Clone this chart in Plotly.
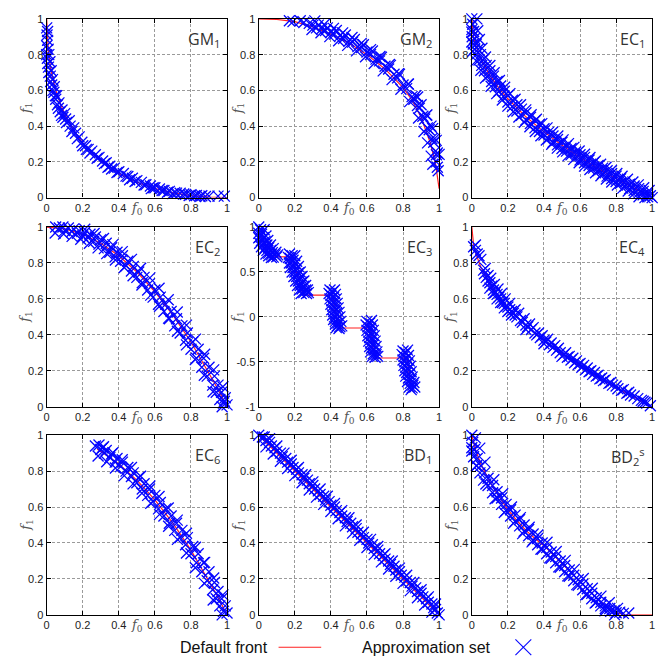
import plotly.graph_objects as go

W, H = 667, 658
COL_PX = [(36, 218), (250, 432), (465, 647)]
ROW_PX = [(5, 187), (217, 400), (429, 612)]

# ---------------- data ----------------
panel_titles = ["GM<sub>1</sub>", "GM<sub>2</sub>", "EC<sub>1</sub>",
                "EC<sub>2</sub>", "EC<sub>3</sub>", "EC<sub>4</sub>",
                "EC<sub>6</sub>", "BD<sub>1</sub>", "BD<sub>2</sub><sup>s</sup>"]

x_tick_vals = [0, 0.2, 0.4, 0.6, 0.8, 1]
x_tick_text = ["0", "0.2", "0.4", "0.6", "0.8", "1"]
y_tick_vals = [0, 0.2, 0.4, 0.6, 0.8, 1]
y_tick_text = ["0", "0.2", "0.4", "0.6", "0.8", "1"]
ec3_y_tick_vals = [-1, -0.5, 0, 0.5, 1]
ec3_y_tick_text = ["-1", "-0.5", "0", "0.5", "1"]

# ---- GM1
gm1_front = [(0, 1), (0.005, 0.8636), (0.01, 0.81), (0.02, 0.7372), (0.03, 0.6836),
             (0.05, 0.6028), (0.075, 0.5272), (0.1, 0.4675), (0.15, 0.3754), (0.2, 0.3056),
             (0.25, 0.25), (0.3, 0.2046), (0.4, 0.1351), (0.5, 0.0858), (0.6, 0.0508),
             (0.7, 0.0267), (0.8, 0.0111), (0.9, 0.0026), (1.0, 0)]
gm1_approx = [(0.000, 0.95), (0.002, 0.91), (0.005, 0.88), (0.000, 0.85), (0.008, 0.83),
              (0.012, 0.80), (0.004, 0.78), (0.018, 0.76), (0.010, 0.73), (0.025, 0.71),
              (0.020, 0.68), (0.032, 0.66), (0.028, 0.63), (0.042, 0.62), (0.040, 0.59),
              (0.055, 0.57), (0.050, 0.55), (0.068, 0.53), (0.065, 0.50), (0.085, 0.49),
              (0.082, 0.46), (0.100, 0.47), (0.105, 0.44), (0.125, 0.43), (0.130, 0.40),
              (0.150, 0.39), (0.160, 0.36), (0.180, 0.34), (0.195, 0.31), (0.215, 0.29),
              (0.220, 0.27), (0.230, 0.27), (0.250, 0.26), (0.270, 0.24), (0.290, 0.225),
              (0.310, 0.205), (0.330, 0.195), (0.340, 0.17), (0.350, 0.175), (0.375, 0.165),
              (0.400, 0.145), (0.425, 0.135), (0.450, 0.118), (0.460, 0.10), (0.475, 0.108),
              (0.500, 0.095), (0.525, 0.085), (0.550, 0.072), (0.575, 0.065), (0.580, 0.05),
              (0.600, 0.055), (0.625, 0.048), (0.650, 0.040), (0.680, 0.035), (0.700, 0.022),
              (0.710, 0.028), (0.740, 0.024), (0.770, 0.018), (0.800, 0.016), (0.830, 0.012),
              (0.860, 0.010), (0.900, 0.008), (0.950, 0.008), (0.985, 0.008)]
gm1_approx_lower = [(0.005, 0.93), (0.0, 0.80), (0.006, 0.75), (0.012, 0.70), (0.022, 0.65),
                    (0.035, 0.60), (0.048, 0.57), (0.06, 0.52), (0.075, 0.48), (0.09, 0.45),
                    (0.11, 0.42), (0.14, 0.37), (0.17, 0.33), (0.20, 0.29), (0.24, 0.25),
                    (0.28, 0.22), (0.32, 0.19), (0.36, 0.16), (0.39, 0.14), (0.44, 0.12),
                    (0.49, 0.09), (0.54, 0.07), (0.59, 0.055), (0.64, 0.04), (0.67, 0.03),
                    (0.72, 0.025), (0.76, 0.02), (0.79, 0.012), (0.82, 0.01), (0.85, 0.006),
                    (0.88, 0.006)]

# ---- GM2
gm2_front = [(0, 1), (0.1, 0.997), (0.2, 0.985), (0.3, 0.955), (0.4, 0.915), (0.5, 0.865),
             (0.6, 0.80), (0.7, 0.72), (0.8, 0.615), (0.85, 0.545), (0.9, 0.45),
             (0.95, 0.31), (0.98, 0.19), (1.0, 0.05)]
gm2_approx = [(0.17, 0.99), (0.19, 0.985), (0.23, 0.99), (0.25, 0.98), (0.28, 0.975),
              (0.30, 0.965), (0.32, 0.95), (0.33, 0.965), (0.35, 0.945), (0.37, 0.935),
              (0.38, 0.95), (0.40, 0.925), (0.42, 0.915), (0.43, 0.935), (0.45, 0.905),
              (0.47, 0.89), (0.48, 0.91), (0.50, 0.875), (0.52, 0.87), (0.53, 0.885),
              (0.55, 0.845), (0.57, 0.84), (0.58, 0.855), (0.60, 0.815), (0.62, 0.80),
              (0.63, 0.82), (0.65, 0.775), (0.67, 0.765), (0.68, 0.785), (0.70, 0.735),
              (0.72, 0.72), (0.73, 0.74), (0.75, 0.69), (0.77, 0.67), (0.78, 0.69),
              (0.80, 0.63), (0.82, 0.61), (0.83, 0.635), (0.85, 0.565), (0.86, 0.55),
              (0.87, 0.57), (0.88, 0.515), (0.89, 0.50), (0.90, 0.52), (0.91, 0.455),
              (0.92, 0.44), (0.93, 0.46), (0.935, 0.39), (0.945, 0.38), (0.955, 0.40),
              (0.96, 0.33), (0.97, 0.31), (0.975, 0.33), (0.98, 0.26), (0.985, 0.24),
              (0.99, 0.25), (0.985, 0.20), (0.99, 0.17), (0.995, 0.15)]
gm2_approx_upper = [(0.311, 0.989), (0.363, 0.969), (0.414, 0.947), (0.465, 0.922),
                    (0.517, 0.896), (0.568, 0.863), (0.62, 0.828), (0.672, 0.79),
                    (0.724, 0.745), (0.775, 0.694), (0.828, 0.636), (0.881, 0.563),
                    (0.932, 0.463), (0.964, 0.386), (0.984, 0.32), (1.0, 0.242)]
gm2_approx_lower = [(0.295, 0.941), (0.345, 0.923), (0.394, 0.901), (0.443, 0.878),
                    (0.493, 0.852), (0.542, 0.821), (0.592, 0.788), (0.64, 0.75),
                    (0.69, 0.709), (0.739, 0.66), (0.788, 0.606), (0.837, 0.537),
                    (0.886, 0.445), (0.916, 0.37), (0.936, 0.306), (0.956, 0.232),
                    (0.965, 0.187)]

# ---- EC1
ec1_front = [(0, 1), (0.005, 0.929), (0.01, 0.9), (0.02, 0.859), (0.05, 0.776),
             (0.1, 0.684), (0.15, 0.613), (0.2, 0.553), (0.3, 0.452), (0.4, 0.368),
             (0.5, 0.293), (0.6, 0.225), (0.7, 0.163), (0.8, 0.106), (0.9, 0.051), (1, 0)]
ec1_approx = [(0.0, 1.0), (0.005, 0.97), (0.0, 0.94), (0.01, 0.93), (0.002, 0.90),
              (0.015, 0.89), (0.008, 0.86), (0.025, 0.86), (0.015, 0.83), (0.035, 0.83),
              (0.025, 0.80), (0.048, 0.80), (0.04, 0.77), (0.062, 0.77), (0.055, 0.74),
              (0.08, 0.74), (0.07, 0.71), (0.1, 0.71), (0.09, 0.68), (0.12, 0.68),
              (0.11, 0.65), (0.14, 0.65), (0.13, 0.62), (0.16, 0.625), (0.15, 0.595),
              (0.18, 0.595), (0.175, 0.565), (0.20, 0.57), (0.20, 0.535), (0.225, 0.545),
              (0.225, 0.51), (0.25, 0.52), (0.25, 0.485), (0.275, 0.495), (0.275, 0.46),
              (0.30, 0.475), (0.30, 0.435), (0.325, 0.45), (0.325, 0.415), (0.35, 0.43),
              (0.35, 0.39), (0.375, 0.41), (0.375, 0.37), (0.40, 0.385), (0.40, 0.35),
              (0.425, 0.365), (0.425, 0.33), (0.45, 0.345), (0.45, 0.31), (0.475, 0.325),
              (0.475, 0.295), (0.50, 0.31), (0.50, 0.275), (0.525, 0.29), (0.525, 0.26),
              (0.55, 0.275), (0.55, 0.24), (0.575, 0.255), (0.575, 0.225), (0.60, 0.24),
              (0.60, 0.21), (0.625, 0.225), (0.625, 0.195), (0.65, 0.21), (0.65, 0.18),
              (0.675, 0.195), (0.675, 0.165), (0.70, 0.18), (0.70, 0.15), (0.725, 0.165),
              (0.725, 0.135), (0.75, 0.15), (0.75, 0.12), (0.775, 0.135), (0.775, 0.105),
              (0.80, 0.12), (0.80, 0.09), (0.825, 0.105), (0.825, 0.08), (0.85, 0.09),
              (0.85, 0.065), (0.875, 0.075), (0.875, 0.05), (0.90, 0.065), (0.90, 0.04),
              (0.925, 0.05), (0.925, 0.025), (0.95, 0.035), (0.95, 0.015), (0.975, 0.02),
              (0.975, 0.005), (0.99, 0.01), (1.0, 0.0)]
ec1_approx_upper = [(0.028, 1.0), (0.033, 0.934), (0.042, 0.885), (0.056, 0.836),
                    (0.076, 0.787), (0.1, 0.739), (0.124, 0.699), (0.153, 0.655),
                    (0.182, 0.618), (0.211, 0.582), (0.24, 0.55), (0.27, 0.52),
                    (0.299, 0.491), (0.329, 0.464), (0.358, 0.438), (0.388, 0.414),
                    (0.417, 0.39), (0.447, 0.366), (0.477, 0.345), (0.506, 0.323),
                    (0.536, 0.302), (0.566, 0.281), (0.595, 0.261), (0.625, 0.243),
                    (0.655, 0.224), (0.685, 0.205), (0.714, 0.187), (0.744, 0.17),
                    (0.774, 0.152), (0.804, 0.135), (0.833, 0.119), (0.863, 0.103),
                    (0.893, 0.087), (0.923, 0.071), (0.953, 0.055), (0.983, 0.04)]
ec1_approx_lower = [(0.0, 0.926), (0.0, 0.871), (0.004, 0.818), (0.024, 0.765),
                    (0.05, 0.713), (0.076, 0.669), (0.107, 0.623), (0.138, 0.582),
                    (0.169, 0.546), (0.2, 0.512), (0.23, 0.48), (0.261, 0.451),
                    (0.291, 0.422), (0.322, 0.396), (0.352, 0.37), (0.383, 0.346),
                    (0.413, 0.322), (0.443, 0.299), (0.474, 0.277), (0.504, 0.256),
                    (0.534, 0.235), (0.565, 0.214), (0.595, 0.195), (0.625, 0.176),
                    (0.655, 0.157), (0.686, 0.139), (0.716, 0.122), (0.746, 0.104),
                    (0.776, 0.087), (0.807, 0.07), (0.837, 0.053), (0.867, 0.037),
                    (0.897, 0.021), (0.927, 0.005), (0.96, 0.0)]

# ---- EC2
ec2_front = [(0, 1), (0.1, 0.99), (0.2, 0.96), (0.3, 0.91), (0.4, 0.84), (0.5, 0.75),
             (0.6, 0.64), (0.7, 0.51), (0.8, 0.36), (0.9, 0.19), (0.95, 0.0975), (1, 0)]
ec2_approx = [(0.05, 1.0), (0.07, 0.995), (0.09, 1.0), (0.1, 0.98), (0.12, 0.995),
              (0.14, 0.975), (0.15, 0.99), (0.17, 0.965), (0.18, 0.98), (0.2, 0.95),
              (0.21, 0.97), (0.23, 0.94), (0.24, 0.96), (0.26, 0.92), (0.27, 0.945),
              (0.29, 0.905), (0.30, 0.93), (0.32, 0.88), (0.33, 0.91), (0.35, 0.86),
              (0.36, 0.885), (0.38, 0.835), (0.39, 0.86), (0.41, 0.81), (0.42, 0.84),
              (0.44, 0.785), (0.45, 0.81), (0.47, 0.755), (0.48, 0.78), (0.50, 0.72),
              (0.51, 0.75), (0.53, 0.69), (0.54, 0.72), (0.56, 0.65), (0.57, 0.685),
              (0.59, 0.61), (0.60, 0.65), (0.62, 0.57), (0.63, 0.61), (0.65, 0.53),
              (0.66, 0.57), (0.68, 0.49), (0.69, 0.53), (0.71, 0.45), (0.72, 0.49),
              (0.74, 0.41), (0.75, 0.45), (0.77, 0.37), (0.78, 0.41), (0.80, 0.32),
              (0.81, 0.36), (0.83, 0.27), (0.84, 0.32), (0.86, 0.22), (0.87, 0.27),
              (0.89, 0.17), (0.90, 0.22), (0.92, 0.12), (0.93, 0.17), (0.94, 0.08),
              (0.95, 0.12), (0.96, 0.04), (0.97, 0.08), (0.98, 0.02), (0.99, 0.05), (1.0, 0.01)]
ec2_approx_upper = [(0.053, 1.02), (0.106, 1.017), (0.159, 1.006), (0.211, 0.988),
                    (0.263, 0.964), (0.315, 0.936), (0.367, 0.902), (0.419, 0.863),
                    (0.47, 0.82), (0.521, 0.771), (0.572, 0.717), (0.623, 0.659),
                    (0.674, 0.595), (0.724, 0.527), (0.775, 0.454), (0.825, 0.376),
                    (0.876, 0.292), (0.926, 0.205), (0.977, 0.111), (0.985, 0.03)]
ec2_approx_lower = [(0.047, 0.967), (0.094, 0.961), (0.141, 0.948), (0.189, 0.932),
                    (0.237, 0.910), (0.285, 0.884), (0.333, 0.852), (0.381, 0.817),
                    (0.43, 0.775), (0.479, 0.729), (0.528, 0.677), (0.577, 0.621),
                    (0.626, 0.559), (0.676, 0.493), (0.725, 0.420), (0.775, 0.344),
                    (0.824, 0.262), (0.874, 0.175), (0.923, 0.083), (0.973, 0.0)]

# ---- EC3
ec3_front = [(0, 1), (0.01, 0.897), (0.02, 0.847), (0.03, 0.803), (0.04, 0.762),
             (0.05, 0.726), (0.06, 0.698), (0.07, 0.679), (0.083, 0.670), (0.183, 0.668),
             (0.2, 0.553), (0.22, 0.402), (0.24, 0.282), (0.258, 0.242), (0.409, 0.242),
             (0.42, 0.105), (0.43, -0.004), (0.44, -0.081), (0.454, -0.124), (0.618, -0.124),
             (0.63, -0.304), (0.64, -0.409), (0.653, -0.458), (0.823, -0.458),
             (0.83, -0.582), (0.84, -0.715), (0.852, -0.773)]
ec3_approx = [(0.0, 1.0), (0.01, 0.97), (0.0, 0.93), (0.015, 0.92), (0.005, 0.89),
              (0.025, 0.88), (0.015, 0.85), (0.035, 0.84), (0.025, 0.81), (0.045, 0.80),
              (0.035, 0.77), (0.055, 0.77), (0.045, 0.74), (0.065, 0.74), (0.055, 0.71),
              (0.075, 0.715), (0.07, 0.69), (0.09, 0.69), (0.08, 0.665), (0.1, 0.67),
              (0.17, 0.70), (0.185, 0.68), (0.175, 0.65), (0.19, 0.63), (0.18, 0.60),
              (0.20, 0.59), (0.19, 0.55), (0.21, 0.54), (0.20, 0.50), (0.22, 0.49),
              (0.21, 0.45), (0.23, 0.44), (0.22, 0.40), (0.24, 0.39), (0.23, 0.35),
              (0.25, 0.34), (0.24, 0.31), (0.26, 0.30), (0.25, 0.27), (0.265, 0.26),
              (0.395, 0.30), (0.41, 0.28), (0.40, 0.24), (0.415, 0.22), (0.405, 0.18),
              (0.42, 0.16), (0.41, 0.12), (0.425, 0.10), (0.415, 0.06), (0.43, 0.04),
              (0.42, 0.0), (0.435, -0.02), (0.425, -0.05), (0.44, -0.07), (0.435, -0.10),
              (0.45, -0.11), (0.445, -0.13),
              (0.60, -0.05), (0.615, -0.07), (0.605, -0.11), (0.62, -0.13), (0.61, -0.17),
              (0.625, -0.19), (0.615, -0.23), (0.63, -0.25), (0.62, -0.29), (0.635, -0.31),
              (0.625, -0.35), (0.64, -0.37), (0.635, -0.41), (0.65, -0.42), (0.645, -0.45),
              (0.80, -0.38), (0.815, -0.40), (0.805, -0.44), (0.82, -0.46), (0.81, -0.50),
              (0.825, -0.52), (0.815, -0.56), (0.83, -0.58), (0.82, -0.62), (0.835, -0.64),
              (0.83, -0.68), (0.845, -0.70), (0.84, -0.74), (0.855, -0.76), (0.85, -0.79)]
ec3_approx_right = [(0.03, 0.97), (0.04, 0.90), (0.05, 0.85), (0.065, 0.80), (0.08, 0.76),
                    (0.095, 0.72), (0.105, 0.69),
                    (0.20, 0.68), (0.21, 0.62), (0.22, 0.56), (0.23, 0.50), (0.24, 0.45),
                    (0.25, 0.40), (0.26, 0.35), (0.27, 0.30), (0.275, 0.27),
                    (0.42, 0.30), (0.425, 0.25), (0.43, 0.20), (0.435, 0.15), (0.44, 0.10),
                    (0.445, 0.05), (0.45, 0.0), (0.455, -0.05), (0.46, -0.10),
                    (0.625, -0.04), (0.63, -0.09), (0.635, -0.15), (0.64, -0.21),
                    (0.645, -0.27), (0.65, -0.33), (0.655, -0.39), (0.66, -0.44),
                    (0.825, -0.37), (0.83, -0.43), (0.835, -0.49), (0.84, -0.55),
                    (0.845, -0.61), (0.85, -0.67), (0.86, -0.73), (0.865, -0.78)]
ec3_approx_left = [(0.0, 0.88), (0.005, 0.82), (0.015, 0.78), (0.025, 0.74), (0.04, 0.70),
                   (0.055, 0.68), (0.07, 0.66),
                   (0.165, 0.66), (0.17, 0.60), (0.175, 0.55), (0.185, 0.50), (0.195, 0.45),
                   (0.205, 0.40), (0.215, 0.35), (0.225, 0.30), (0.235, 0.26),
                   (0.39, 0.26), (0.395, 0.20), (0.40, 0.14), (0.405, 0.08), (0.41, 0.02),
                   (0.415, -0.03), (0.425, -0.08), (0.43, -0.12),
                   (0.595, -0.09), (0.60, -0.15), (0.605, -0.21), (0.61, -0.27),
                   (0.615, -0.33), (0.62, -0.39), (0.63, -0.44),
                   (0.795, -0.42), (0.80, -0.48), (0.805, -0.54), (0.81, -0.60),
                   (0.815, -0.66), (0.825, -0.72), (0.835, -0.78), (0.845, -0.81)]

# ---- EC4
ec4_front = [(0, 1), (0.005, 0.929), (0.01, 0.9), (0.02, 0.859), (0.05, 0.776),
             (0.1, 0.684), (0.15, 0.613), (0.2, 0.553), (0.3, 0.452), (0.4, 0.368),
             (0.5, 0.293), (0.6, 0.225), (0.7, 0.163), (0.8, 0.106), (0.9, 0.051), (1, 0)]
ec4_approx = [(0.01, 0.89), (0.02, 0.90), (0.02, 0.87), (0.03, 0.85), (0.04, 0.84),
              (0.05, 0.82), (0.065, 0.76), (0.07, 0.74), (0.08, 0.72), (0.09, 0.70),
              (0.10, 0.69), (0.10, 0.66), (0.11, 0.67), (0.12, 0.65), (0.12, 0.63),
              (0.13, 0.635), (0.14, 0.625), (0.14, 0.60), (0.15, 0.61), (0.16, 0.60),
              (0.16, 0.58), (0.17, 0.58), (0.18, 0.575), (0.18, 0.55), (0.19, 0.56),
              (0.20, 0.555), (0.20, 0.53), (0.21, 0.54), (0.22, 0.53), (0.22, 0.51),
              (0.23, 0.52), (0.24, 0.51), (0.25, 0.50), (0.27, 0.48), (0.28, 0.47),
              (0.30, 0.455), (0.30, 0.43), (0.31, 0.445), (0.33, 0.43), (0.35, 0.41),
              (0.36, 0.40), (0.38, 0.385), (0.40, 0.37), (0.40, 0.35), (0.41, 0.36),
              (0.43, 0.345), (0.45, 0.33), (0.47, 0.315), (0.49, 0.30), (0.50, 0.28),
              (0.51, 0.29), (0.53, 0.275), (0.55, 0.26), (0.57, 0.245), (0.59, 0.235),
              (0.61, 0.22), (0.63, 0.205), (0.65, 0.195), (0.67, 0.18), (0.69, 0.17),
              (0.71, 0.155), (0.73, 0.145), (0.76, 0.13), (0.78, 0.12), (0.81, 0.10),
              (0.83, 0.09), (0.86, 0.075), (0.88, 0.065), (0.92, 0.045), (0.94, 0.035),
              (0.96, 0.025), (0.99, 0.005)]
ec4_approx_upper = [(0.075, 0.77), (0.09, 0.73), (0.105, 0.715), (0.125, 0.68), (0.145, 0.655),
                    (0.165, 0.63), (0.185, 0.60), (0.21, 0.575), (0.24, 0.54), (0.26, 0.52),
                    (0.29, 0.49), (0.32, 0.46), (0.34, 0.44), (0.37, 0.41), (0.39, 0.395),
                    (0.42, 0.375), (0.44, 0.355), (0.46, 0.34), (0.48, 0.325), (0.52, 0.30),
                    (0.54, 0.28), (0.56, 0.27), (0.58, 0.255), (0.60, 0.24), (0.62, 0.23),
                    (0.64, 0.215), (0.66, 0.20), (0.68, 0.19), (0.70, 0.175), (0.72, 0.16),
                    (0.74, 0.15), (0.77, 0.135), (0.80, 0.115), (0.84, 0.095), (0.87, 0.08),
                    (0.90, 0.06), (0.95, 0.03), (0.97, 0.02)]

# ---- EC6
ec6_front = [(0.28, 0.9216), (0.3, 0.91), (0.4, 0.84), (0.5, 0.75), (0.6, 0.64),
             (0.7, 0.51), (0.8, 0.36), (0.9, 0.19), (0.95, 0.0975), (1, 0)]
ec6_approx = [(0.27, 0.94), (0.29, 0.945), (0.30, 0.92), (0.31, 0.93), (0.32, 0.90),
              (0.33, 0.915), (0.35, 0.875), (0.36, 0.895), (0.38, 0.85), (0.39, 0.87),
              (0.41, 0.825), (0.42, 0.85), (0.44, 0.80), (0.45, 0.82), (0.47, 0.77),
              (0.48, 0.79), (0.50, 0.735), (0.51, 0.765), (0.53, 0.70), (0.54, 0.73),
              (0.56, 0.665), (0.57, 0.70), (0.59, 0.63), (0.60, 0.665), (0.62, 0.59),
              (0.63, 0.625), (0.65, 0.55), (0.66, 0.59), (0.68, 0.51), (0.69, 0.55),
              (0.71, 0.47), (0.72, 0.51), (0.74, 0.43), (0.75, 0.47), (0.77, 0.39),
              (0.78, 0.43), (0.80, 0.34), (0.81, 0.38), (0.83, 0.29), (0.84, 0.34),
              (0.86, 0.24), (0.87, 0.29), (0.89, 0.19), (0.90, 0.24), (0.92, 0.14),
              (0.93, 0.18), (0.94, 0.09), (0.95, 0.13), (0.96, 0.05), (0.97, 0.09),
              (0.98, 0.02), (0.99, 0.05), (1.0, 0.01)]
ec6_approx_upper = [(0.315, 0.936), (0.367, 0.902), (0.419, 0.863), (0.47, 0.82),
                    (0.521, 0.771), (0.572, 0.717), (0.623, 0.659), (0.674, 0.595),
                    (0.724, 0.527), (0.775, 0.454), (0.825, 0.376), (0.876, 0.292),
                    (0.926, 0.205), (0.977, 0.111)]
ec6_approx_lower = [(0.285, 0.884), (0.333, 0.852), (0.381, 0.817), (0.43, 0.775),
                    (0.479, 0.729), (0.528, 0.677), (0.577, 0.621), (0.626, 0.559),
                    (0.676, 0.493), (0.725, 0.42), (0.775, 0.344), (0.824, 0.262),
                    (0.874, 0.175), (0.923, 0.083), (0.973, 0.0)]

# ---- BD1
bd1_front = [(0, 1), (1, 0)]
bd1_approx = [(0.0, 1.0), (0.02, 0.99), (0.04, 0.97), (0.03, 0.99), (0.06, 0.96),
              (0.07, 0.94), (0.09, 0.93), (0.10, 0.91), (0.12, 0.90), (0.13, 0.88),
              (0.15, 0.87), (0.16, 0.85), (0.18, 0.84), (0.19, 0.82), (0.21, 0.81),
              (0.22, 0.79), (0.24, 0.78), (0.25, 0.76), (0.27, 0.75), (0.28, 0.73),
              (0.30, 0.72), (0.31, 0.70), (0.33, 0.69), (0.34, 0.67), (0.36, 0.66),
              (0.37, 0.64), (0.39, 0.63), (0.40, 0.61), (0.42, 0.60), (0.43, 0.58),
              (0.45, 0.57), (0.46, 0.55), (0.48, 0.54), (0.49, 0.52), (0.51, 0.51),
              (0.52, 0.49), (0.54, 0.48), (0.55, 0.46), (0.57, 0.45), (0.58, 0.43),
              (0.60, 0.42), (0.61, 0.40), (0.63, 0.39), (0.64, 0.37), (0.66, 0.36),
              (0.67, 0.34), (0.69, 0.33), (0.70, 0.31), (0.72, 0.30), (0.73, 0.28),
              (0.75, 0.27), (0.76, 0.25), (0.78, 0.24), (0.79, 0.22), (0.81, 0.21),
              (0.82, 0.19), (0.84, 0.18), (0.85, 0.16), (0.87, 0.15), (0.88, 0.13),
              (0.90, 0.12), (0.91, 0.10), (0.93, 0.09), (0.94, 0.07), (0.96, 0.06),
              (0.97, 0.04), (0.98, 0.03), (0.99, 0.01), (1.0, 0.0)]
bd1_approx_upper = [(0.02, 1.02), (0.06, 0.98), (0.10, 0.94), (0.14, 0.90), (0.18, 0.86),
                    (0.22, 0.82), (0.26, 0.78), (0.30, 0.74), (0.34, 0.70), (0.38, 0.66),
                    (0.42, 0.62), (0.46, 0.58), (0.50, 0.54), (0.54, 0.50), (0.58, 0.46),
                    (0.62, 0.42), (0.66, 0.38), (0.70, 0.34), (0.74, 0.30), (0.78, 0.26),
                    (0.82, 0.22), (0.86, 0.18), (0.90, 0.14), (0.94, 0.10), (0.98, 0.06)]
bd1_approx_lower = [(0.04, 0.935), (0.08, 0.895), (0.12, 0.855), (0.16, 0.815), (0.20, 0.775),
                    (0.24, 0.735), (0.28, 0.695), (0.32, 0.655), (0.36, 0.615), (0.40, 0.575),
                    (0.44, 0.535), (0.48, 0.495), (0.52, 0.455), (0.56, 0.415), (0.60, 0.375),
                    (0.64, 0.335), (0.68, 0.295), (0.72, 0.255), (0.76, 0.215), (0.80, 0.175),
                    (0.84, 0.135), (0.88, 0.095), (0.92, 0.055), (0.96, 0.015)]

# ---- BD2s
bd2_front = [(0, 1), (0.02, 0.92), (0.05, 0.84), (0.1, 0.74), (0.15, 0.66), (0.2, 0.585),
             (0.25, 0.525), (0.3, 0.47), (0.35, 0.425), (0.4, 0.385), (0.45, 0.335),
             (0.5, 0.285), (0.55, 0.235), (0.6, 0.185), (0.65, 0.13), (0.7, 0.085),
             (0.75, 0.045), (0.8, 0.012), (0.85, 0.0), (1.0, 0.0)]
bd2_approx = [(0.0, 1.0), (0.005, 0.96), (0.0, 0.93), (0.015, 0.92), (0.01, 0.88),
              (0.03, 0.87), (0.025, 0.83), (0.05, 0.83), (0.045, 0.79), (0.07, 0.79),
              (0.065, 0.75), (0.09, 0.76), (0.09, 0.72), (0.115, 0.72), (0.115, 0.68),
              (0.14, 0.685), (0.14, 0.65), (0.165, 0.65), (0.165, 0.615), (0.19, 0.615),
              (0.19, 0.58), (0.215, 0.585), (0.215, 0.55), (0.24, 0.555), (0.24, 0.52),
              (0.265, 0.53), (0.265, 0.495), (0.29, 0.50), (0.29, 0.465), (0.315, 0.475),
              (0.315, 0.44), (0.34, 0.45), (0.34, 0.415), (0.365, 0.425), (0.365, 0.39),
              (0.39, 0.40), (0.39, 0.365), (0.415, 0.375), (0.415, 0.34), (0.44, 0.35),
              (0.44, 0.315), (0.465, 0.325), (0.465, 0.29), (0.49, 0.30), (0.49, 0.265),
              (0.515, 0.275), (0.515, 0.24), (0.54, 0.25), (0.54, 0.215), (0.565, 0.22),
              (0.565, 0.19), (0.59, 0.195), (0.59, 0.165), (0.615, 0.17), (0.615, 0.14),
              (0.64, 0.145), (0.64, 0.115), (0.665, 0.12), (0.665, 0.09), (0.69, 0.095),
              (0.69, 0.07), (0.715, 0.07), (0.715, 0.05), (0.74, 0.05), (0.74, 0.035),
              (0.765, 0.035), (0.77, 0.02), (0.79, 0.025), (0.80, 0.012), (0.82, 0.015),
              (0.84, 0.008), (0.87, 0.01)]
bd2_approx_upper = [(0.02, 0.985), (0.044, 0.928), (0.073, 0.85), (0.122, 0.752),
                    (0.171, 0.674), (0.22, 0.60), (0.269, 0.541), (0.318, 0.488),
                    (0.366, 0.444), (0.417, 0.404), (0.468, 0.353), (0.518, 0.303),
                    (0.568, 0.253), (0.618, 0.202), (0.668, 0.148), (0.716, 0.104),
                    (0.762, 0.067), (0.808, 0.036)]
bd2_approx_lower = [(0.0, 0.912), (0.027, 0.83), (0.078, 0.728), (0.129, 0.646),
                    (0.18, 0.57), (0.231, 0.509), (0.282, 0.452), (0.334, 0.406),
                    (0.383, 0.366), (0.432, 0.317), (0.482, 0.267), (0.532, 0.217),
                    (0.582, 0.168), (0.632, 0.112), (0.684, 0.066), (0.738, 0.023),
                    (0.792, 0.0)]

panel_fronts = [gm1_front, gm2_front, ec1_front, ec2_front, ec3_front,
                ec4_front, ec6_front, bd1_front, bd2_front]
panel_approx = [gm1_approx + gm1_approx_lower,
                gm2_approx + gm2_approx_upper + gm2_approx_lower,
                ec1_approx + ec1_approx_upper + ec1_approx_lower,
                ec2_approx + ec2_approx_upper + ec2_approx_lower,
                ec3_approx + ec3_approx_right + ec3_approx_left,
                ec4_approx + ec4_approx_upper,
                ec6_approx + ec6_approx_upper + ec6_approx_lower,
                bd1_approx + bd1_approx_upper + bd1_approx_lower,
                bd2_approx + bd2_approx_upper + bd2_approx_lower]

legend_front_label = "Default front"
legend_approx_label = "Approximation set"

# ---------------- styling ----------------
RED = "#ff2020"
BLUE = "#0505ff"
GRID = "#9a9a9a"
TICK_FONT = dict(family="Liberation Sans, Arial, sans-serif", size=11, color="#222222")
LABEL_FONT = dict(family="DejaVu Serif, Liberation Serif, serif", size=13, color="#555555")
TITLE_FONT = dict(family="Open Sans, Noto Sans, sans-serif", size=16, color="#333333")
LEG_FONT = dict(family="Liberation Sans, Arial, sans-serif", size=16, color="#111111")


def px_x(p):
    return p / W


def px_y(p):
    return 1 - p / H


fig = go.Figure()
layout = dict(width=W, height=H, margin=dict(l=0, r=0, t=0, b=0),
              paper_bgcolor="white", plot_bgcolor="white", showlegend=False)
annotations = []
shapes = []

for i in range(9):
    r, c = divmod(i, 3)
    k = i + 1
    xs = "x" if k == 1 else f"x{k}"
    ys = "y" if k == 1 else f"y{k}"
    xkey = "xaxis" if k == 1 else f"xaxis{k}"
    ykey = "yaxis" if k == 1 else f"yaxis{k}"
    x0, x1 = COL_PX[c]
    y0, y1 = ROW_PX[r]
    is_ec3 = (i == 4)

    common = dict(showline=True, linecolor="black", linewidth=1.3, mirror="ticks",
                  ticks="inside", ticklen=4, tickcolor="black", tickwidth=1,
                  showgrid=True, gridcolor=GRID, gridwidth=1, griddash="3px,2px",
                  zeroline=False, tickfont=TICK_FONT, fixedrange=True)
    layout[xkey] = dict(domain=[px_x(x0), px_x(x1)], range=[0, 1], anchor=ys,
                        tickvals=x_tick_vals, ticktext=x_tick_text, **common)
    layout[ykey] = dict(domain=[px_y(y1), px_y(y0)], anchor=xs,
                        range=[-1, 1] if is_ec3 else [0, 1],
                        tickvals=ec3_y_tick_vals if is_ec3 else y_tick_vals,
                        ticktext=ec3_y_tick_text if is_ec3 else y_tick_text, **common)

    fx, fy = zip(*panel_fronts[i])
    ax_, ay_ = zip(*panel_approx[i])
    fig.add_trace(go.Scatter(x=list(fx), y=list(fy), mode="lines", xaxis=xs, yaxis=ys,
                             line=dict(color=RED, width=1.2), hoverinfo="skip"))
    fig.add_trace(go.Scatter(x=list(ax_), y=list(ay_), mode="markers", xaxis=xs, yaxis=ys,
                             cliponaxis=False,
                             marker=dict(symbol="x-thin-open", size=11, color=BLUE,
                                         line=dict(color=BLUE, width=1.3)),
                             hoverinfo="skip"))

    annotations.append(dict(text=panel_titles[i], xref="paper", yref="paper",
                            x=px_x(x1 - 5), y=px_y(y0 + 7), xanchor="right", yanchor="top",
                            showarrow=False, font=TITLE_FONT))
    annotations.append(dict(text="<i>f</i><sub>0</sub>", xref="paper", yref="paper",
                            x=px_x((x0 + x1) / 2), y=px_y(y1 + 11), xanchor="center",
                            yanchor="middle", showarrow=False, font=LABEL_FONT))
    annotations.append(dict(text="<i>f</i><sub>1</sub>", xref="paper", yref="paper",
                            x=px_x(x0 - 21), y=px_y((y0 + y1) / 2), xanchor="center",
                            yanchor="middle", textangle=-90, showarrow=False,
                            font=LABEL_FONT))

# legend (drawn manually: text before key)
leg_y = 645
annotations.append(dict(text=legend_front_label, xref="paper", yref="paper",
                        x=px_x(261), y=px_y(leg_y), xanchor="right", yanchor="middle",
                        showarrow=False, font=LEG_FONT))
shapes.append(dict(type="line", xref="paper", yref="paper",
                   x0=px_x(270), x1=px_x(313), y0=px_y(leg_y), y1=px_y(leg_y),
                   line=dict(color=RED, width=1.2)))
annotations.append(dict(text=legend_approx_label, xref="paper", yref="paper",
                        x=px_x(486), y=px_y(leg_y), xanchor="right", yanchor="middle",
                        showarrow=False, font=LEG_FONT))
shapes.append(dict(type="line", xref="paper", yref="paper",
                   x0=px_x(509), x1=px_x(525), y0=px_y(leg_y - 8), y1=px_y(leg_y + 8),
                   line=dict(color=BLUE, width=1.1)))
shapes.append(dict(type="line", xref="paper", yref="paper",
                   x0=px_x(509), x1=px_x(525), y0=px_y(leg_y + 8), y1=px_y(leg_y - 8),
                   line=dict(color=BLUE, width=1.1)))

layout["annotations"] = annotations
layout["shapes"] = shapes
fig.update_layout(**layout)
fig.write_html("out.html", config={"displayModeBar": False})
